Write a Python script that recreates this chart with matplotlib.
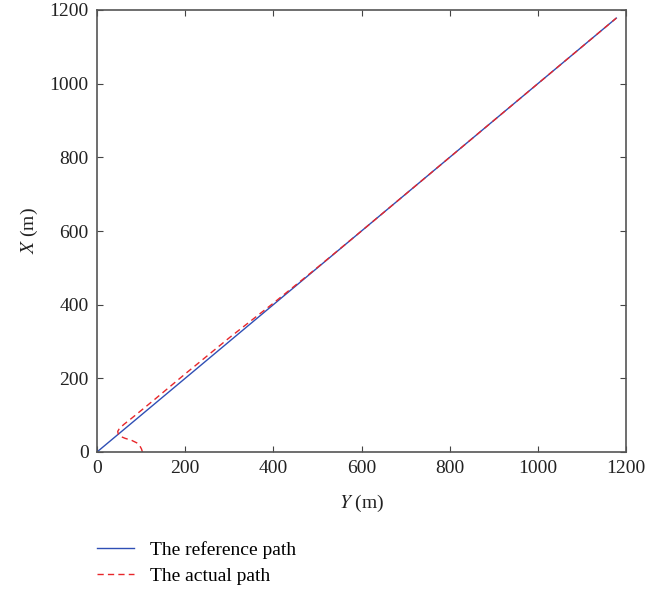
import matplotlib
matplotlib.use("Agg")
import matplotlib.pyplot as plt


# =========================
# Data
# =========================

# reference path: straight line from origin (Y, X)
ref_y = [0, 1178]
ref_x = [0, 1178]

# actual path (Y, X)
act_y = [103, 101, 97, 90, 78, 64, 52, 48, 47, 50, 60, 80, 128, 200, 300, 400, 500, 600, 800, 1000, 1178]
act_x = [0, 8, 17, 25, 32, 37, 43, 50, 56, 62, 74, 93, 140, 212, 310, 404, 501, 600, 800, 1000, 1178]

ticks = [0, 200, 400, 600, 800, 1000, 1200]


# =========================
# Plot
# =========================

def main():
    plt.rcParams["font.family"] = ["Liberation Serif", "DejaVu Serif"]
    plt.rcParams["mathtext.fontset"] = "stix"
    plt.rcParams["font.size"] = 14

    fig = plt.figure(figsize=(6.72, 5.95), dpi=100)
    ax = fig.add_axes([97 / 672, 1 - 452 / 595, 529 / 672, 442 / 595])

    ref_line, = ax.plot(ref_y, ref_x, color="#2f4fb5", lw=1.0)
    act_line, = ax.plot(act_y, act_x, color="#e8262a", lw=1.0, dashes=(4.5, 3))

    ax.set_xlim(0, 1200)
    ax.set_ylim(0, 1200)
    ax.set_xticks(ticks)
    ax.set_yticks(ticks)
    ax.tick_params(direction="in", top=True, right=True, length=4,
                   color="#444444", labelcolor="#222222", pad=6)
    for s in ax.spines.values():
        s.set_color("#555555")
        s.set_linewidth(1.2)

    ax.set_xlabel("$Y$ (m)", color="#222222", labelpad=11)
    ax.set_ylabel("$X$ (m)", color="#222222", labelpad=7)

    fig.legend([ref_line, act_line], ["The reference path", "The actual path"],
               loc="center left", bbox_to_anchor=(97 / 672, 1 - 563 / 595),
               frameon=False, borderpad=0, borderaxespad=0,
               handlelength=1.9, handletextpad=0.8, labelspacing=0.4)

    fig.savefig("out.png", dpi=100)
    plt.close(fig)


if __name__ == "__main__":
    main()
